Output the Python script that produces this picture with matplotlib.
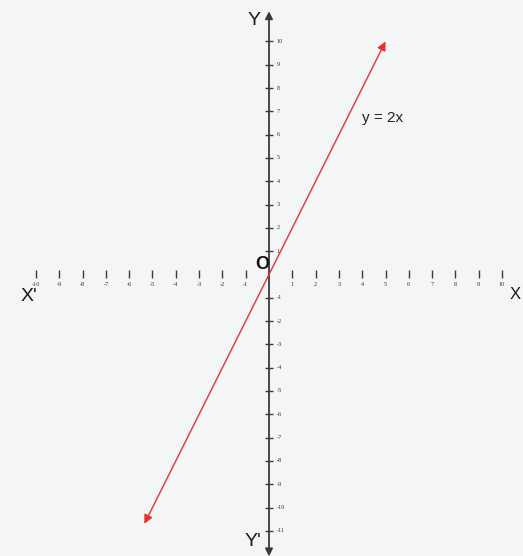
import matplotlib
matplotlib.use("Agg")
import matplotlib.pyplot as plt
import numpy as np

# Tick values on each axis
x_ticks = [-10, -9, -8, -7, -6, -5, -4, -3, -2, -1, 1, 2, 3, 4, 5, 6, 7, 8, 9, 10]
y_ticks = [10, 9, 8, 7, 6, 5, 4, 3, 2, 1, -1, -2, -3, -4, -5, -6, -7, -8, -9, -10, -11]

# The line y = 2x, drawn between these x values
line_x = [-5.35, 5.0]
slope = 2
line_label = "y = 2x"

W, H = 523, 556
fig = plt.figure(figsize=(W / 100, H / 100), dpi=100)
bg = "#f4f5f7"
fig.patch.set_facecolor(bg)
ax = fig.add_axes([0, 0, 1, 1])
ax.set_facecolor(bg)

unit = 23.3
ox, oy = 269, 274.5
ax.set_xlim(-ox / unit, (W - ox) / unit)
ax.set_ylim(-(H - oy) / unit, oy / unit)
ax.axis("off")

axis_col = "#3a3a3a"
# Axes with arrowheads at both ends
ax.annotate("", xy=(10.95, 0), xytext=(-11.2, 0),
            arrowprops=dict(arrowstyle="<|-|>", color=axis_col, lw=1.3,
                            mutation_scale=11, shrinkA=0, shrinkB=0))
ax.annotate("", xy=(0, 11.3), xytext=(0, -12.1),
            arrowprops=dict(arrowstyle="<|-|>", color=axis_col, lw=1.3,
                            mutation_scale=11, shrinkA=0, shrinkB=0))

# Tick marks and labels
ax.plot(x_ticks, [0] * len(x_ticks), ls="none", marker="|", ms=6, mew=1.0, color=axis_col)
ax.plot([0] * len(y_ticks), y_ticks, ls="none", marker="_", ms=6, mew=1.0, color=axis_col)
for v in x_ticks:
    ax.text(v, -0.45, str(v), ha="center", va="center", fontsize=4.5,
            color="#333333", family="Liberation Serif")
for v in y_ticks:
    ax.text(0.33, v, str(v), ha="left", va="center", fontsize=4.5,
            color="#333333", family="Liberation Serif")

# Red line y = 2x with arrowheads
x0, x1 = line_x
ax.annotate("", xy=(x1, slope * x1), xytext=(x0, slope * x0),
            arrowprops=dict(arrowstyle="<|-|>", color="#e8302c", lw=1.0,
                            mutation_scale=13, shrinkA=0, shrinkB=0))
ax.text(4.0, 6.7, line_label, fontsize=11, color="#222222",
        family="Liberation Sans", ha="left", va="center")

# Axis names
lab = dict(fontsize=14, color="#1a1a1a", family="Liberation Sans", va="center")
ax.text(-0.35, 10.9, "Y", ha="right", **lab)
ax.text(-0.35, -11.45, "Y'", ha="right", **lab)
ax.text(-10.3, -0.95, "X'", ha="center", **lab)
ax.text((W - 2 - ox) / unit, -0.85, "X", ha="right",
        **dict(lab, fontsize=12))
ax.text(-0.28, 0.45, "O", ha="center", fontsize=13, color="#111111",
        family="Liberation Sans", va="center", fontweight="bold")

fig.savefig("out.png", dpi=100, facecolor=bg)
